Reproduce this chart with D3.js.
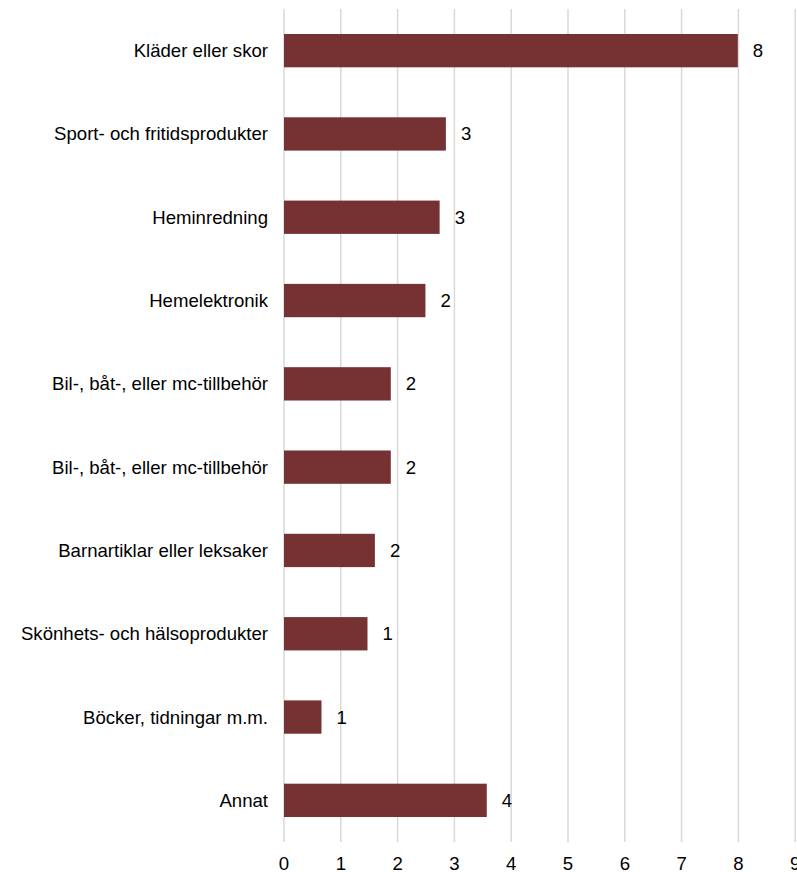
<!DOCTYPE html>
<html><head><meta charset="utf-8">
<script src="https://cdn.jsdelivr.net/npm/d3@7"></script>
<style>html,body{margin:0;padding:0;background:#fff;}svg{display:block;}</style>
</head><body><div id="chart"></div>
<script>
const categories = ["Kläder eller skor","Sport- och fritidsprodukter","Heminredning","Hemelektronik","Bil-, båt-, eller mc-tillbehör","Bil-, båt-, eller mc-tillbehör","Barnartiklar eller leksaker","Skönhets- och hälsoprodukter","Böcker, tidningar m.m.","Annat"];
const values = [7.99, 2.85, 2.74, 2.49, 1.88, 1.88, 1.60, 1.47, 0.66, 3.57];
const valueLabels = ["8","3","3","2","2","2","2","1","1","4"];
const xTicks = [0,1,2,3,4,5,6,7,8,9];

const W = 797, H = 872;
const margin = {left: 284, right: 2, top: 9, bottom: 30};
const svg = d3.select("#chart").append("svg").attr("width", W).attr("height", H);
const font = "'Liberation Sans', Arial, sans-serif";
const fs = 18.6;

const x = d3.scaleLinear().domain([0, 9]).range([margin.left, margin.left + 56.8*9]);
const idx = categories.map((d,i)=>i);
const y = d3.scaleBand().domain(idx).range([margin.top, H - margin.bottom]).paddingInner(0.6).paddingOuter(0.3);

svg.append("g").selectAll("line").data(xTicks).join("line")
  .attr("x1", d=>x(d)).attr("x2", d=>x(d))
  .attr("y1", margin.top).attr("y2", H - margin.bottom)
  .attr("stroke", "#d9d9d9").attr("stroke-width", 1.5);

svg.append("g").selectAll("rect").data(idx).join("rect")
  .attr("x", x(0)).attr("y", i=>y(i))
  .attr("width", i=>x(values[i]) - x(0)).attr("height", y.bandwidth())
  .attr("fill", "#763232");

svg.append("g").selectAll("text").data(idx).join("text")
  .attr("x", i=>x(values[i]) + 15).attr("y", i=>y(i) + y.bandwidth()/2)
  .attr("dy", "0.35em").attr("font-family", font).attr("font-size", fs)
  .attr("fill", "#000").text(i=>valueLabels[i]);

svg.append("g").selectAll("text").data(idx).join("text")
  .attr("x", margin.left - 16).attr("y", i=>y(i) + y.bandwidth()/2)
  .attr("dy", "0.35em").attr("text-anchor", "end").attr("font-family", font).attr("font-size", fs)
  .attr("fill", "#000").text(i=>categories[i]);

svg.append("g").selectAll("text").data(xTicks).join("text")
  .attr("x", d=>x(d)).attr("y", H - margin.bottom + 21)
  .attr("dy", "0.35em").attr("text-anchor", "middle").attr("font-family", font).attr("font-size", fs)
  .attr("fill", "#000").text(d=>d);
</script></body></html>
